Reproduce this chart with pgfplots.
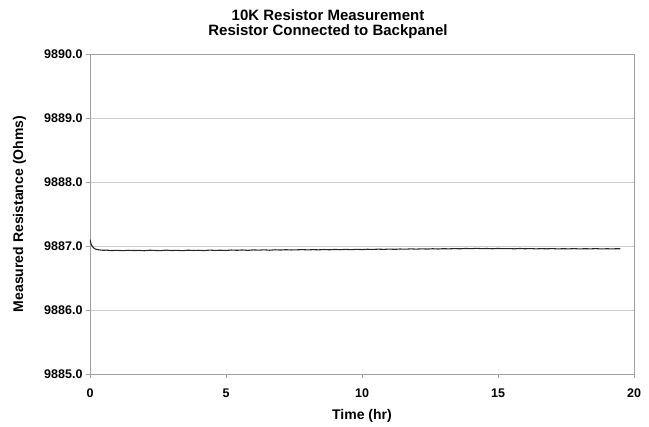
\documentclass[border=0pt]{standalone}
\usepackage{fontspec}
\setmainfont{Liberation Sans}
\usepackage{pgfplots}
\pgfplotsset{compat=1.18}
\definecolor{framegray}{RGB}{160,160,160}
\definecolor{gridgray}{RGB}{205,205,205}
\begin{document}
\begin{tikzpicture}
\useasboundingbox (-90bp,-53bp) rectangle (559bp,374bp);
\begin{axis}[
  scale only axis,
  width=544bp, height=320bp,
  xmin=0, xmax=20, ymin=9885, ymax=9890,
  xtick={0,5,10,15,20}, ytick={9885,9886,...,9890},
  ymajorgrids, major grid style={gridgray, line width=0.6pt},
  axis line style={framegray, line width=0.8pt},
  tick style={framegray, line width=0.6pt},
  tick align=outside, major tick length=4bp,
  xtick pos=bottom, ytick pos=left,
  /pgf/number format/assume math mode=true,
  yticklabel style={/pgf/number format/.cd, fixed, fixed zerofill, precision=1, 1000 sep={}},
  ticklabel style={font=\fontsize{12.5bp}{14bp}\selectfont\bfseries},
  xticklabel style={yshift=-7bp},
  xlabel={Time (hr)}, ylabel={Measured Resistance (Ohms)},
  every axis x label/.style={at={(axis description cs:0.5,0)}, anchor=center, yshift=-42bp, font=\fontsize{14bp}{16bp}\selectfont\bfseries},
  every axis y label/.style={at={(axis description cs:0,0.5)}, anchor=center, rotate=90, yshift=70.5bp, font=\fontsize{14bp}{16bp}\selectfont\bfseries},
  title={10K Resistor Measurement\\Resistor Connected to Backpanel},
  every axis title/.style={at={(axis description cs:0.5,1)}, anchor=south, inner sep=0pt, yshift=15bp, xshift=-34bp, align=center, font=\fontsize{15bp}{15bp}\selectfont\bfseries},
]
\addplot[black!85, line width=1.1pt] coordinates {
(0,9887.100) (0.02,9887.060) (0.05,9887.020) (0.1,9886.985) (0.15,9886.965)
(0.2,9886.952) (0.3,9886.942) (0.4,9886.936) (0.5,9886.933) (0.6,9886.935)
(0.8,9886.929) (1.0,9886.932) (1.2,9886.927) (1.4,9886.933) (1.6,9886.929)
(1.8,9886.931) (2.0,9886.926) (2.2,9886.934) (2.4,9886.930) (2.6,9886.928)
(2.8,9886.935) (3.0,9886.929) (3.2,9886.932) (3.4,9886.927) (3.6,9886.934)
(3.8,9886.930) (4.0,9886.933) (4.2,9886.928) (4.4,9886.936) (4.6,9886.931)
(4.8,9886.934) (5.0,9886.930) (5.2,9886.937) (5.4,9886.933) (5.6,9886.938)
(5.8,9886.932) (6.0,9886.939) (6.2,9886.935) (6.4,9886.940) (6.6,9886.934)
(6.8,9886.941) (7.0,9886.937) (7.2,9886.942) (7.4,9886.938) (7.6,9886.940)
(7.8,9886.944) (8.0,9886.939) (8.2,9886.943) (8.4,9886.940) (8.6,9886.945)
(8.8,9886.941) (9.0,9886.946) (9.2,9886.942) (9.4,9886.947) (9.6,9886.943)
(9.8,9886.948) (10.0,9886.944) (10.2,9886.949) (10.4,9886.946) (10.6,9886.951)
(10.8,9886.947) (11.0,9886.952) (11.2,9886.948) (11.4,9886.953) (11.6,9886.950)
(11.8,9886.955) (12.0,9886.951) (12.2,9886.956) (12.4,9886.952) (12.6,9886.957)
(12.8,9886.953) (13.0,9886.958) (13.2,9886.955) (13.4,9886.960) (13.6,9886.956)
(13.8,9886.962) (14.0,9886.958) (14.2,9886.963) (14.4,9886.959) (14.6,9886.961)
(14.8,9886.957) (15.0,9886.962) (15.2,9886.958) (15.4,9886.960) (15.6,9886.956)
(15.8,9886.961) (16.0,9886.957) (16.2,9886.960) (16.4,9886.955) (16.6,9886.959)
(16.8,9886.956) (17.0,9886.960) (17.2,9886.954) (17.4,9886.958) (17.6,9886.955)
(17.8,9886.959) (18.0,9886.954) (18.2,9886.958) (18.4,9886.955) (18.6,9886.959)
(18.8,9886.954) (19.0,9886.957) (19.2,9886.955) (19.4,9886.958) (19.5,9886.956)
};
\end{axis}
\end{tikzpicture}
\end{document}
